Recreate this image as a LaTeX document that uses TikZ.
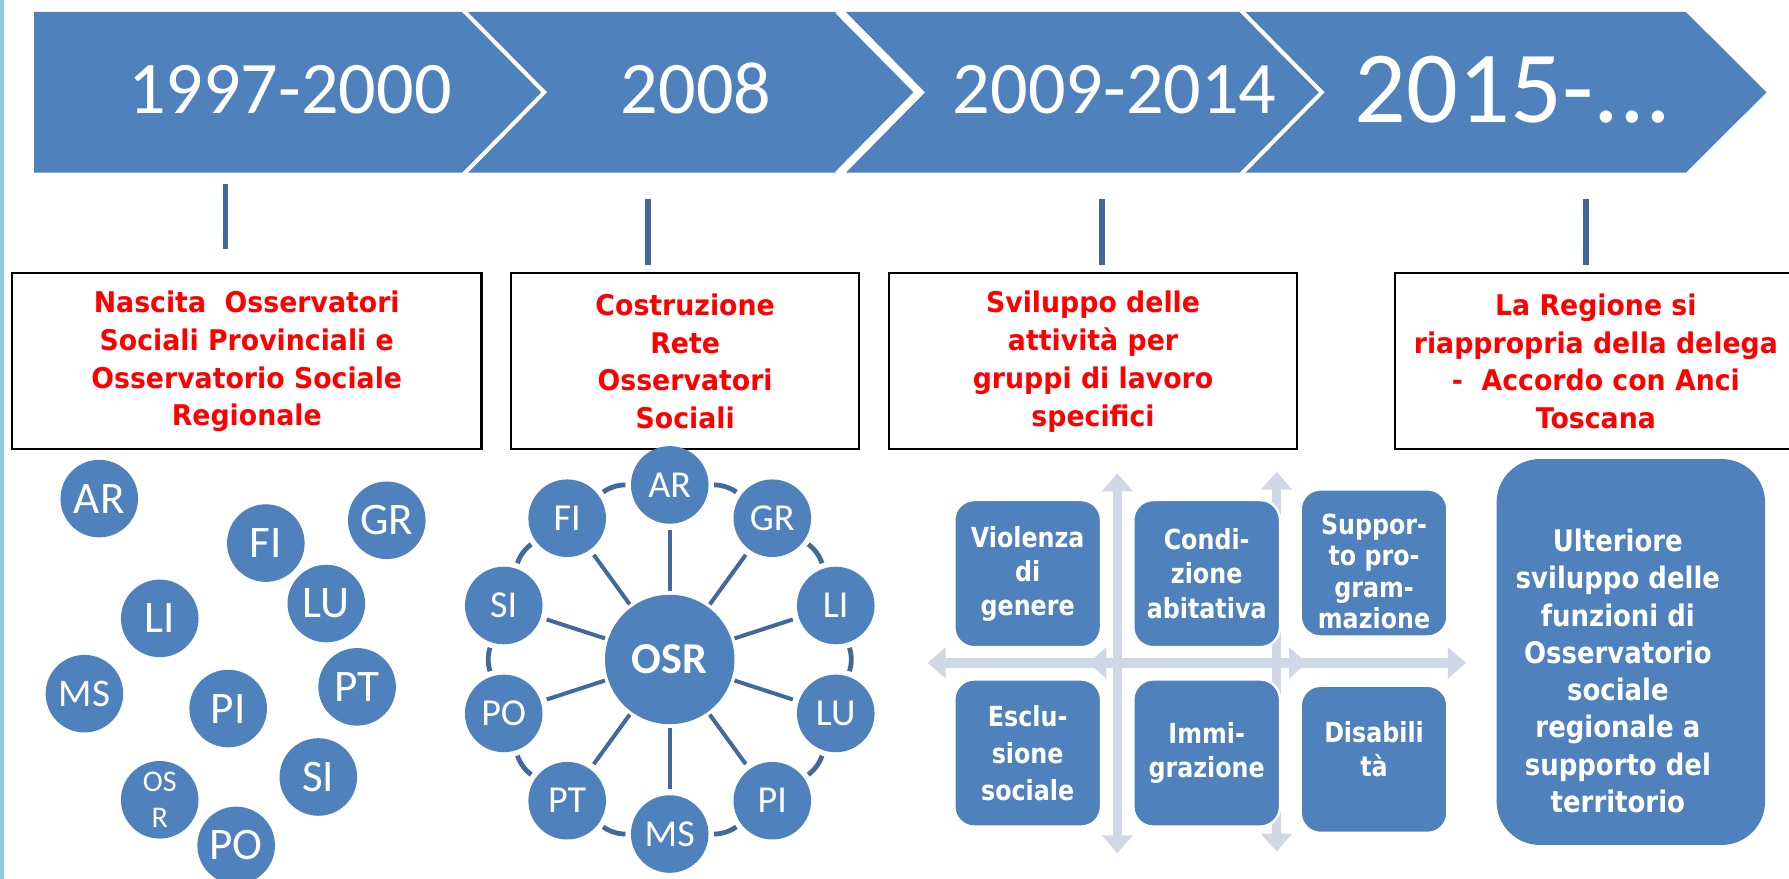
\documentclass[tikz,border=0pt]{standalone}
\usepackage{fontspec}
\setmainfont{Carlito}
\newfontfamily\redfont[FakeStretch=0.94]{DejaVu Sans}
\newfontfamily\matfont[FakeStretch=0.86]{DejaVu Sans}
\newfontfamily\ultfont[FakeStretch=0.875]{DejaVu Sans}
\usetikzlibrary{arrows.meta}
\definecolor{ofblue}{RGB}{79,129,189}
\definecolor{darkln}{RGB}{65,105,155}
\definecolor{crossc}{RGB}{208,216,232}
\definecolor{edgec}{RGB}{140,205,225}
\definecolor{redtxt}{RGB}{255,0,0}
\begin{document}
\begin{tikzpicture}[x=0.02cm,y=-0.02cm,
  seg/.style={fill=ofblue},
  sepline/.style={draw=white,line width=#1},
  yeartext/.style={text=white,anchor=base,inner sep=0pt,font=\fontsize{37}{40}\selectfont},
  tickln/.style={draw=darkln,line width=2.8pt},
  redbox/.style={draw=black,line width=1.1pt,fill=white,minimum height=3.084cm,inner sep=0pt,align=center,text=redtxt,font=\redfont\bfseries\fontsize{14.2}{18.9}\selectfont},
  circ/.style={circle,fill=ofblue,text=white,minimum size=1.36cm,inner sep=0pt,font=\fontsize{22.5}{24}\selectfont},
  ringc/.style={circ,font=\fontsize{19}{20}\selectfont},
  spoke/.style={draw=darkln,line width=2pt,shorten <=1.5pt,shorten >=3pt},
  ringln/.style={draw=darkln,line width=2.4pt,shorten <=2.6pt,shorten >=2.6pt},
  crossarr/.style={draw=crossc,line width=4.7pt,{Triangle[width=15pt,length=9pt]}-{Triangle[width=15pt,length=9pt]}},
  mbox/.style={rounded corners=0.35cm,fill=ofblue,draw=white,line width=1.2pt,minimum width=2.572cm,minimum height=2.58cm,inner sep=0pt,align=center,text=white,font=\matfont\bfseries\fontsize{13.8}{17}\selectfont},
  mtext/.style={text=white,align=center,inner sep=0pt,font=\matfont\bfseries\fontsize{13.8}{17}\selectfont},
  bigbox/.style={rounded corners=0.76cm,fill=ofblue,minimum width=4.706cm,minimum height=6.766cm,inner sep=0pt},
  bigtext/.style={text=white,align=center,inner sep=0pt,font=\ultfont\bfseries\fontsize{14.8}{18.6}\selectfont}
]
\useasboundingbox (0,0) rectangle (1568,770);
\fill[white] (0,0) rectangle (1568,770);
\fill[edgec] (0,0) rectangle (3.5,770);

% banner
\path[seg] (30,10.5) -- (406,10.5) -- (477,80.9) -- (406,151.3) -- (30,151.3) -- cycle;
\path[seg] (406,10.5) -- (734.7,10.5) -- (805.7,80.9) -- (734.7,151.3) -- (406,151.3) -- (477,80.9) -- cycle;
\path[seg] (734.7,10.5) -- (1087.5,10.5) -- (1158.5,80.9) -- (1087.5,151.3) -- (734.7,151.3) -- (805.7,80.9) -- cycle;
\path[seg] (1087.5,10.5) -- (1477.6,10.5) -- (1548.3,80.9) -- (1477.6,151.3) -- (1087.5,151.3) -- (1158.5,80.9) -- cycle;
\draw[sepline=2pt] (406,9) -- (477,80.9) -- (406,153);
\draw[sepline=4pt] (734.7,9) -- (805.7,80.9) -- (734.7,153);
\draw[sepline=2pt] (1087.5,9) -- (1158.5,80.9) -- (1087.5,153);

\node[yeartext] (y1) at (254,99.3) {1997-2000};
\node[yeartext] (y2) at (610,99.3) {2008};
\node[yeartext] (y3) at (977,99.3) {2009-2014};
\node[yeartext,font=\fontsize{51}{54}\selectfont] (y4) at (1326,107.5) {2015-...};

% ticks
\coordinate (t1a) at (197.7,161.3); \coordinate (t1b) at (197.7,218.5);
\coordinate (t2a) at (568,174.7); \coordinate (t2b) at (568,232.3);
\coordinate (t3a) at (966,174.7); \coordinate (t3b) at (966,232.3);
\coordinate (t4a) at (1390,174.7); \coordinate (t4b) at (1390,232.3);
\draw[tickln] (t1a) -- (t1b);
\draw[tickln] (t2a) -- (t2b);
\draw[tickln] (t3a) -- (t3b);
\draw[tickln] (t4a) -- (t4b);

% red boxes
\node[redbox,minimum width=8.23cm] (b1) at (216.25,316.7) {Nascita\ \ Osservatori\\Sociali Provinciali e\\Osservatorio Sociale\\Regionale};
\node[redbox,minimum width=6.108cm] (b2) at (600.5,316.7) {Costruzione\\Rete\\Osservatori\\Sociali};
\node[redbox,minimum width=7.162cm] (b3) at (958,316.7) {Sviluppo delle\\attività per\\gruppi di lavoro\\specifici};
\node[redbox,minimum width=7.052cm] (b4) at (1398.7,316.7) {La Regione si\\riappropria della delega\\-\ \ Accordo con Anci\\Toscana};

% scattered circles
\node[circ] (lAR) at (87,437) {AR};
\node[circ] (lFI) at (233,476) {FI};
\node[circ] (lGR) at (339,456) {GR};
\node[circ] (lLI) at (140,542) {LI};
\node[circ] (lLU) at (286,529) {LU};
\node[circ,font=\fontsize{19.5}{21}\selectfont] (lMS) at (74,608) {MS};
\node[circ] (lPI) at (200,621) {PI};
\node[circ] (lPT) at (313,602) {PT};
\node[circ] (lSI) at (279,681) {SI};
\node[circ,align=center,font=\fontsize{15}{17.7}\selectfont] (lOSR) at (140,701) {OS\\R};
\node[circ] (lPO) at (207,741) {PO};

% network
\node[circle,fill=ofblue,text=white,minimum size=2.27cm,inner sep=0pt,font=\bfseries\fontsize{22}{24}\selectfont] (OSR) at (587,578) {OSR};
\node[ringc] (rAR) at (587,425) {AR};
\node[ringc] (rGR) at (676.9,454.2) {GR};
\node[ringc] (rLI) at (732.5,530.7) {LI};
\node[ringc] (rLU) at (732.5,625.3) {LU};
\node[ringc] (rPI) at (676.9,701.8) {PI};
\node[ringc] (rMS) at (587,731) {MS};
\node[ringc] (rPT) at (497.1,701.8) {PT};
\node[ringc] (rPO) at (441.5,625.3) {PO};
\node[ringc] (rSI) at (441.5,530.7) {SI};
\node[ringc] (rFI) at (497.1,454.2) {FI};
\foreach \n in {AR,GR,LI,LU,PI,MS,PT,PO,SI,FI}
  \draw[spoke] (OSR) -- (r\n);
\foreach \a/\b in {AR/GR,GR/LI,LI/LU,LU/PI,PI/MS,MS/PT,PT/PO,PO/SI,SI/FI,FI/AR}
  \draw[ringln] (r\a) to[bend left=18] (r\b);

% cross arrows
\coordinate (c1l) at (813,581); \coordinate (c1r) at (1145.6,581);
\coordinate (c1t) at (979.3,414.8); \coordinate (c1b) at (979.3,747.9);
\coordinate (c2l) at (953.8,581); \coordinate (c2r) at (1284.9,581);
\coordinate (c2t) at (1118.9,413.4); \coordinate (c2b) at (1118.9,746.5);
\draw[crossarr] (c1l) -- (c1r);
\draw[crossarr] (c1t) -- (c1b);
\draw[crossarr] (c2l) -- (c2r);
\draw[crossarr] (c2t) -- (c2b);

% matrix boxes
\node[mbox] (m1) at (900.7,502.75) {Violenza\\di\\genere};
\node[mbox] (m2) at (1057.6,502.75) {Condi-\\zione\\abitativa};
\node[mbox] (m3) at (1204.3,493.4) {};
\node[mtext,font=\matfont\bfseries\fontsize{13.8}{15.7}\selectfont] (m3t) at (1204.3,501) {Suppor-\\to pro-\\gram-\\mazione};
\node[mbox,font=\matfont\bfseries\fontsize{13.8}{18.6}\selectfont] (m4) at (900.7,660) {Esclu-\\sione\\sociale};
\node[mbox,font=\matfont\bfseries\fontsize{13.8}{17.4}\selectfont] (m5) at (1057.6,660) {Immi-\\grazione};
\node[mbox] (m6) at (1204.3,665.5) {};
\node[mtext] (m6t) at (1204.3,657) {Disabili\\tà};

% big box
\node[bigbox] (big) at (1429.35,571.45) {};
\node[bigtext] (bigt) at (1418,588) {Ulteriore\\sviluppo delle\\funzioni di\\Osservatorio\\sociale\\regionale a\\supporto del\\territorio};
\end{tikzpicture}
\end{document}
